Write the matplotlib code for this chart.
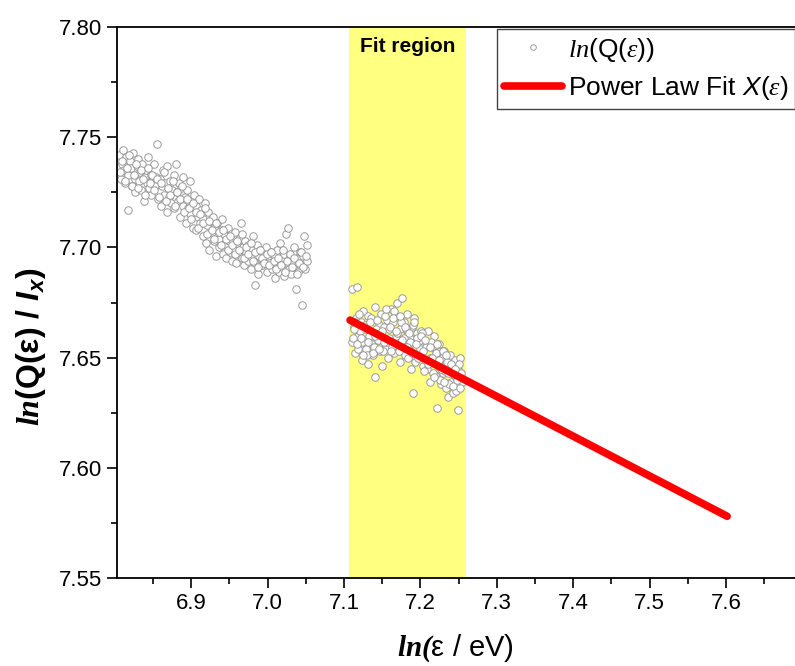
import matplotlib
matplotlib.use('Agg')
from matplotlib import pyplot as plt
from matplotlib.ticker import MultipleLocator

# scatter data, low-energy part (outside fit region)
x_low = [6.806, 6.808, 6.809, 6.811, 6.812, 6.814, 6.815, 6.817, 6.818, 6.820, 6.821, 6.823, 6.824, 6.826, 6.827,
         6.829, 6.830, 6.832, 6.833, 6.835, 6.836, 6.838, 6.839, 6.841, 6.842, 6.844, 6.845, 6.847, 6.848, 6.850,
         6.851, 6.853, 6.854,
         6.856, 6.857, 6.859, 6.860, 6.862, 6.863, 6.865, 6.866, 6.868, 6.869, 6.871, 6.872, 6.874, 6.875, 6.877,
         6.878, 6.880, 6.881, 6.883, 6.884, 6.886, 6.887, 6.889, 6.890, 6.892, 6.893, 6.895, 6.896, 6.898, 6.899,
         6.901, 6.902, 6.904,
         6.906, 6.907, 6.909, 6.910, 6.912, 6.913, 6.915, 6.916, 6.918, 6.919, 6.921, 6.922, 6.924, 6.925, 6.927,
         6.928, 6.930, 6.931, 6.933, 6.934, 6.936, 6.937, 6.939, 6.940, 6.942, 6.943, 6.945, 6.946, 6.948, 6.949,
         6.951, 6.952, 6.954,
         6.956, 6.957, 6.959, 6.960, 6.962, 6.963, 6.965, 6.966, 6.968, 6.969, 6.971, 6.972, 6.974, 6.975, 6.977,
         6.978, 6.980, 6.981, 6.983, 6.984, 6.986, 6.987, 6.989, 6.990, 6.992, 6.993, 6.995, 6.996, 6.998, 6.999,
         7.001, 7.002, 7.004,
         7.006, 7.007, 7.009, 7.010, 7.012, 7.013, 7.015, 7.016, 7.018, 7.019, 7.021, 7.022, 7.024, 7.025, 7.027,
         7.028, 7.030, 7.031, 7.033, 7.034, 7.036, 7.037, 7.039, 7.040, 7.042, 7.043, 7.045, 7.046, 7.048, 7.049,
         7.051, 7.052]
y_low = [7.742, 7.731, 7.738, 7.744, 7.735, 7.729, 7.741, 7.733, 7.717, 7.739, 7.736, 7.728, 7.743, 7.731, 7.725,
         7.737, 7.740, 7.730, 7.734, 7.726, 7.738, 7.721, 7.732, 7.735, 7.729, 7.741, 7.727, 7.733, 7.724, 7.731,
         7.738, 7.728, 7.732,
         7.747, 7.722, 7.731, 7.719, 7.728, 7.735, 7.724, 7.729, 7.716, 7.737, 7.723, 7.730, 7.720, 7.726, 7.733,
         7.718, 7.738, 7.725, 7.721, 7.729, 7.714, 7.727, 7.732, 7.719, 7.723, 7.711, 7.726, 7.718, 7.730, 7.715,
         7.721, 7.709, 7.724,
         7.719, 7.708, 7.714, 7.722, 7.711, 7.717, 7.705, 7.713, 7.720, 7.702, 7.710, 7.716, 7.699, 7.712, 7.707,
         7.714, 7.703, 7.709, 7.696, 7.711, 7.704, 7.700, 7.708, 7.713, 7.697, 7.706, 7.701, 7.695, 7.709, 7.703,
         7.698, 7.706, 7.694,
         7.699, 7.707, 7.693, 7.702, 7.697, 7.704, 7.711, 7.695, 7.700, 7.692, 7.703, 7.698, 7.694, 7.701, 7.696,
         7.690, 7.699, 7.705, 7.693, 7.683, 7.701, 7.688, 7.696, 7.699, 7.692, 7.692, 7.697, 7.694, 7.700, 7.689,
         7.696, 7.693, 7.698,
         7.690, 7.697, 7.693, 7.686, 7.699, 7.694, 7.689, 7.702, 7.695, 7.691, 7.697, 7.687, 7.706, 7.693, 7.709,
         7.690, 7.696, 7.688, 7.694, 7.700, 7.691, 7.681, 7.695, 7.689, 7.698, 7.692, 7.674, 7.696, 7.705, 7.690,
         7.701, 7.694]
x_low_b = [6.807, 6.810, 6.813, 6.816, 6.819, 6.822, 6.825, 6.828, 6.831, 6.834, 6.837, 6.840, 6.843, 6.846, 6.849,
           6.852, 6.855, 6.858, 6.861, 6.864, 6.867, 6.870, 6.873, 6.876, 6.879, 6.882, 6.885, 6.888, 6.891, 6.894,
           6.897, 6.900, 6.903, 6.906, 6.909, 6.912, 6.915, 6.918, 6.921, 6.924, 6.927, 6.930, 6.933, 6.936, 6.939,
           6.942, 6.945, 6.948, 6.951, 6.954, 6.957, 6.960, 6.963, 6.966, 6.969, 6.972, 6.975, 6.978, 6.981, 6.984,
           6.987, 6.990, 6.993, 6.996, 6.999, 7.002, 7.005, 7.008, 7.011, 7.014, 7.017, 7.020, 7.023, 7.026, 7.029,
           7.032, 7.035, 7.038, 7.041, 7.044, 7.047, 7.050]
y_low_b = [7.734, 7.739, 7.730, 7.736, 7.742, 7.728, 7.733, 7.738, 7.727, 7.735, 7.731, 7.724, 7.736, 7.729, 7.733,
           7.726, 7.731, 7.723, 7.729, 7.734, 7.721, 7.727, 7.724, 7.730, 7.719, 7.725, 7.722, 7.728, 7.716, 7.722,
           7.718, 7.713, 7.720, 7.716, 7.709, 7.715, 7.711, 7.718, 7.706, 7.712, 7.708, 7.704, 7.711, 7.707, 7.701,
           7.708, 7.704, 7.699, 7.705, 7.701, 7.697, 7.703, 7.699, 7.706, 7.695, 7.700, 7.697, 7.702, 7.694, 7.698,
           7.691, 7.699, 7.695, 7.693, 7.697, 7.692, 7.698, 7.694, 7.690, 7.695, 7.692, 7.699, 7.689, 7.694, 7.697,
           7.691, 7.695, 7.688, 7.693, 7.698, 7.691, 7.696]

# scatter data inside the fit region
x_fit = [7.110, 7.111, 7.113, 7.114, 7.116, 7.117, 7.119, 7.120, 7.122, 7.123, 7.125, 7.126, 7.128, 7.129, 7.131,
         7.132, 7.134, 7.135, 7.137, 7.138, 7.140, 7.141, 7.143, 7.144, 7.146, 7.147, 7.149, 7.150, 7.152, 7.153,
         7.155, 7.156, 7.158,
         7.159, 7.161, 7.162, 7.164, 7.165, 7.167, 7.168, 7.170, 7.171, 7.173, 7.174, 7.176, 7.177, 7.179, 7.180,
         7.182, 7.183, 7.185, 7.186, 7.188, 7.189, 7.191, 7.192, 7.194, 7.195, 7.197, 7.198, 7.200, 7.201, 7.203,
         7.204, 7.206,
         7.207, 7.209, 7.210, 7.212, 7.213, 7.215, 7.216, 7.218, 7.219, 7.221, 7.222, 7.224, 7.225, 7.227, 7.228,
         7.230, 7.231, 7.233, 7.234, 7.236, 7.237, 7.239, 7.240, 7.242, 7.243, 7.245, 7.246, 7.248, 7.249, 7.251,
         7.252, 7.254]
y_fit = [7.681, 7.657, 7.664, 7.652, 7.668, 7.682, 7.660, 7.655, 7.666, 7.649, 7.671, 7.658, 7.663, 7.654, 7.669,
         7.647, 7.661, 7.667, 7.656, 7.651, 7.673, 7.641, 7.662, 7.658, 7.665, 7.653, 7.670, 7.646, 7.659, 7.664,
         7.655, 7.667, 7.650,
         7.663, 7.672, 7.657, 7.666, 7.652, 7.669, 7.660, 7.675, 7.655, 7.663, 7.648, 7.677, 7.658, 7.666, 7.651,
         7.662, 7.670, 7.654, 7.659, 7.645, 7.664, 7.634, 7.668, 7.650, 7.661, 7.656, 7.657, 7.652, 7.662, 7.646,
         7.655, 7.649,
         7.657, 7.645, 7.662, 7.650, 7.639, 7.655, 7.648, 7.660, 7.642, 7.652, 7.627, 7.646, 7.656, 7.638, 7.650,
         7.643, 7.653, 7.636, 7.647, 7.632, 7.644, 7.651, 7.639, 7.645, 7.634, 7.649, 7.641, 7.637, 7.626, 7.644,
         7.650, 7.639]
x_fit_b = [7.112, 7.115, 7.118, 7.121, 7.124, 7.127, 7.130, 7.133, 7.136, 7.139, 7.142, 7.145, 7.148, 7.151, 7.154,
           7.157, 7.160, 7.163, 7.166, 7.169, 7.172, 7.175, 7.178, 7.181, 7.184, 7.187, 7.190, 7.193, 7.196, 7.199,
           7.202, 7.205, 7.208, 7.211, 7.214, 7.217, 7.220, 7.223, 7.226, 7.229, 7.232, 7.235, 7.238, 7.241, 7.244,
           7.247, 7.250, 7.253,
           7.1135, 7.1165, 7.1195, 7.1225, 7.1255, 7.1285, 7.1315, 7.1345, 7.1375, 7.1405, 7.1435, 7.1465, 7.1495,
           7.1525, 7.1555, 7.1585, 7.1615, 7.1645, 7.1675, 7.1705, 7.1735, 7.1765, 7.1795, 7.1825, 7.1855, 7.1885,
           7.1915, 7.1945, 7.1975, 7.2005, 7.2035, 7.2065, 7.2095, 7.2125, 7.2155, 7.2185, 7.2215, 7.2245, 7.2275,
           7.2305, 7.2335, 7.2365, 7.2395, 7.2425, 7.2455, 7.2485, 7.2515]
y_fit_b = [7.659, 7.666, 7.654, 7.662, 7.657, 7.665, 7.651, 7.660, 7.668, 7.655, 7.663, 7.658, 7.661, 7.653, 7.669,
           7.657, 7.664, 7.655, 7.671, 7.661, 7.653, 7.666, 7.659, 7.663, 7.650, 7.657, 7.665, 7.648, 7.659, 7.654,
           7.661, 7.644, 7.655, 7.649, 7.657, 7.643, 7.652, 7.646, 7.640, 7.653, 7.644, 7.648, 7.638, 7.646, 7.642,
           7.635, 7.647, 7.643,
           7.663, 7.656, 7.670, 7.659, 7.651, 7.664, 7.657, 7.666, 7.652, 7.660, 7.667, 7.654, 7.662, 7.657, 7.672,
           7.659, 7.653, 7.668, 7.662, 7.656, 7.669, 7.658, 7.664, 7.655, 7.661, 7.652, 7.666, 7.656, 7.650, 7.660,
           7.653, 7.658, 7.647, 7.655, 7.650, 7.641, 7.656, 7.649, 7.645, 7.639, 7.651, 7.643, 7.647, 7.637, 7.645,
           7.640, 7.636]

# power law fit end points
fit_x = [7.108, 7.6015]
fit_y = [7.667, 7.578]

region = (7.1065, 7.2595)

plt.rcParams['font.family'] = ['Liberation Sans', 'DejaVu Sans']
plt.rcParams['mathtext.fontset'] = 'custom'
plt.rcParams['mathtext.rm'] = 'Liberation Sans'
plt.rcParams['mathtext.it'] = 'Liberation Sans:italic'
plt.rcParams['mathtext.bf'] = 'Liberation Sans:bold'
plt.rcParams['mathtext.bfit'] = 'Liberation Serif:italic:bold'
plt.rcParams['mathtext.cal'] = 'Liberation Serif:italic'
plt.rcParams['mathtext.sf'] = 'Liberation Sans:italic:bold'

fig = plt.figure(figsize=(7.95, 6.66), dpi=100)
ax = fig.add_axes([117 / 795, 88 / 666, 690 / 795, 551 / 666])

ax.axvspan(*region, color='#ffff80', lw=0, zorder=0)
ax.plot(x_low + x_low_b + x_fit + x_fit_b, y_low + y_low_b + y_fit + y_fit_b, 'o', ls='none', ms=5.4,
        mfc='white', mec='#999999', mew=0.7, label=r'$\mathcal{ln}$(Q($\mathcal{ε}$))', zorder=2)
ax.plot(fit_x, fit_y, color='red', lw=5.5, solid_capstyle='round', zorder=3,
        label=r'Power Law Fit $X$($\mathcal{ε}$)')
ax.text(sum(region) / 2, 7.791, 'Fit region', ha='center', va='center', fontsize=15, fontweight='bold')

ax.set_xlim(6.803, 7.706)
ax.set_ylim(7.55, 7.80)
ax.set_xticks([6.9, 7.0, 7.1, 7.2, 7.3, 7.4, 7.5, 7.6])
ax.set_yticks([7.55, 7.60, 7.65, 7.70, 7.75, 7.80])
ax.xaxis.set_minor_locator(MultipleLocator(0.05))
ax.yaxis.set_minor_locator(MultipleLocator(0.025))
ax.tick_params(which='major', length=7, width=1.2, labelsize=16, direction='out')
ax.tick_params(which='minor', length=4, width=1.2, direction='out')
for s in ax.spines.values():
    s.set_linewidth(1.3)

ax.set_xlabel(r'$\mathbfit{ln(}$ε / eV)', fontsize=21)
ax.xaxis.set_label_coords(0.49, -0.098)
ax.set_ylabel(r'$\mathbfit{ln}$(Q(ε) / $\mathsf{I_x}$)', fontsize=23, fontweight='bold')
ax.yaxis.set_label_coords(-0.1, 0.42)

leg = ax.legend(loc='upper left', bbox_to_anchor=(497 / 795, 1 - 29 / 666), bbox_transform=fig.transFigure,
                borderaxespad=0, fontsize=19, fancybox=False, framealpha=1, edgecolor='#444444',
                handlelength=2.2, borderpad=0.25, labelspacing=0.4, handletextpad=0.25, markerscale=0.75)
leg.get_frame().set_linewidth(1.0)

fig.savefig('out.png', dpi=100)
